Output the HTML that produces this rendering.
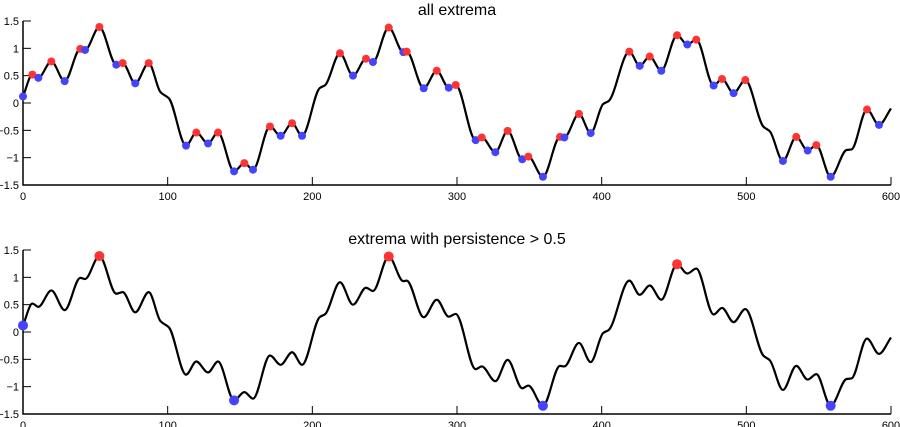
<!DOCTYPE html>
<html><head><meta charset="utf-8"><style>
body{margin:0;background:#fff;}
svg{display:block;font-family:"Liberation Sans",sans-serif;}
</style></head><body>
<svg id="chart" width="900" height="427"></svg>
<script>
// x positions and y values of the signal's control points (extrema & shoulders)
const sampleX = [0,6.5,10.6,19.6,28.8,39.6,42.9,52.8,64.5,68.9,77.6,86.9,95,101,112.7,119.8,127.9,134.8,145.9,153,159,170.7,178.1,186,192.9,205,209,219.1,228.1,237.1,241.9,252.8,262.9,265.2,277,286,294.3,299.1,312.9,317.1,326.5,335,345.1,349.3,359.4,371.2,374.2,384.3,392.4,401,405,419.1,426.3,433.2,441.2,452.1,459.2,465.4,477.4,483.2,491.2,499.3,511.7,516.3,525.3,534.5,542.4,548.4,558.3,569.3,572.7,583.4,591.7,600];
const sampleY = [0.12,0.52,0.46,0.76,0.40,0.99,0.97,1.39,0.70,0.73,0.36,0.73,0.2,0.08,-0.78,-0.54,-0.74,-0.54,-1.25,-1.10,-1.22,-0.43,-0.60,-0.37,-0.60,0.27,0.33,0.91,0.50,0.81,0.75,1.38,0.93,0.94,0.27,0.59,0.28,0.33,-0.68,-0.63,-0.90,-0.51,-1.03,-0.98,-1.35,-0.62,-0.63,-0.20,-0.55,-0.02,0.04,0.94,0.68,0.85,0.59,1.24,1.07,1.16,0.32,0.44,0.18,0.42,-0.43,-0.52,-1.06,-0.62,-0.87,-0.77,-1.35,-0.86,-0.85,-0.12,-0.40,-0.10];
// extremum type: 1 = max, -1 = min, 0 = not an extremum
const sampleType = [-1,1,-1,1,-1,1,-1,1,-1,1,-1,1,0,0,-1,1,-1,1,-1,1,-1,1,-1,1,-1,0,0,1,-1,1,-1,1,-1,1,-1,1,-1,1,-1,1,-1,1,-1,1,-1,1,-1,1,-1,0,0,1,-1,1,-1,1,-1,1,-1,1,-1,1,0,0,-1,1,-1,1,-1,0,0,1,-1,0];
// x positions of extrema with persistence > 0.5
const persistentX = [0,52.8,145.9,252.8,359.4,452.1,558.3];
const xTicks = [0,100,200,300,400,500,600];
const yTicks = [1.5,1,0.5,0,-0.5,-1,-1.5];
const titles = ["all extrema","extrema with persistence > 0.5"];

const NS="http://www.w3.org/2000/svg";
const svg=document.getElementById('chart');
function mk(tag,attrs,parent){const e=document.createElementNS(NS,tag);for(const k in attrs)e.setAttribute(k,attrs[k]);(parent||svg).appendChild(e);return e;}

function pathD(sx,sy){
  const n=sampleX.length,d=[],m=new Array(n);
  for(let i=0;i<n-1;i++)d.push((sampleY[i+1]-sampleY[i])/(sampleX[i+1]-sampleX[i]));
  m[0]=d[0];m[n-1]=d[n-2];
  for(let i=1;i<n-1;i++){
    if(sampleType[i]!==0||d[i-1]*d[i]<=0)m[i]=0;
    else m[i]=2/(1/d[i-1]+1/d[i]);
  }
  let s="M"+sx(sampleX[0])+","+sy(sampleY[0]);
  for(let i=0;i<n-1;i++){
    const h=(sampleX[i+1]-sampleX[i])/3;
    s+=" C"+sx(sampleX[i]+h)+","+sy(sampleY[i]+m[i]*h)+" "+sx(sampleX[i+1]-h)+","+sy(sampleY[i+1]-m[i+1]*h)+" "+sx(sampleX[i+1])+","+sy(sampleY[i+1]);
  }
  return s;
}

function panel(top,idx){
  const x0=23,x1=891,yTop=top,yBot=top+164;
  const sx=v=>x0+(v-0)/600*(x1-x0);
  const sy=v=>yTop+(1.5-v)/3*(yBot-yTop);
  const g=mk('g',{});
  
  
  const t=mk('text',{x:457,y:top-6,'text-anchor':'middle','font-size':16,fill:'#000'},g);
  t.textContent=titles[idx];
  
  
  const ax=mk('path',{d:`M${x0},${yTop} V${yBot} H${x1}`,stroke:'#000','stroke-width':1.5,fill:'none'},g);
  
  
  xTicks.forEach(v=>{
    mk('line',{x1:sx(v),x2:sx(v),y1:yBot,y2:yBot-8,stroke:'#000','stroke-width':1},g);
    const l=mk('text',{x:sx(v),y:yBot+15,'text-anchor':'middle','font-size':11,fill:'#000'},g);
    l.textContent=v;
    
    
  });
  yTicks.forEach(v=>{
    mk('line',{x1:x0,x2:x0+8,y1:sy(v),y2:sy(v),stroke:'#000','stroke-width':1},g);
    const l=mk('text',{x:x0-4,y:sy(v)+4,'text-anchor':'end','font-size':11,fill:'#000'},g);
    l.textContent=String(v).replace('-','\u2212');
    
    
  });
  const line=mk('path',{d:pathD(sx,sy),stroke:'#000','stroke-width':2.2,fill:'none'},g);
  
  
  sampleX.forEach((xv,i)=>{
    if(sampleType[i]===0)return;
    if(idx===1&&persistentX.indexOf(xv)<0)return;
    const c=mk('circle',{cx:sx(xv),cy:sy(sampleY[i]),r:idx===0?4:5,fill:sampleType[i]>0?'#ff3333':'#4444ff'},g);
    
    
  });
}
panel(21,0);
panel(250,1);
</script>
</body></html>
